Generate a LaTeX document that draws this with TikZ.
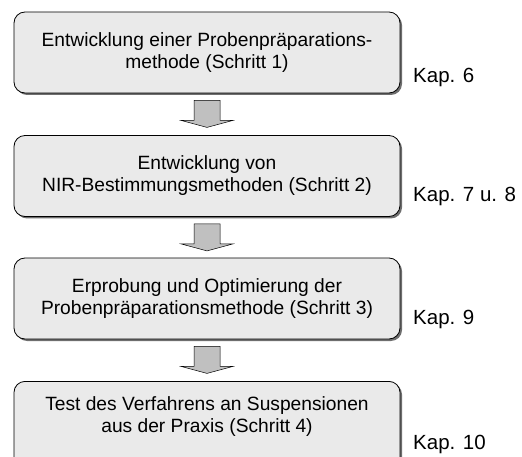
\documentclass[tikz,border=0pt]{standalone}
\usepackage{fontspec}
\setmainfont{Liberation Sans}
\usetikzlibrary{positioning,shadows,calc}

\definecolor{boxgray}{RGB}{234,234,234}
\definecolor{arrowgray}{RGB}{192,192,192}
\definecolor{shadowgray}{RGB}{110,110,110}

\tikzset{
  stepbox/.style={draw=black, line width=0.8pt, rounded corners=11pt,
    fill=boxgray, minimum width=386pt, minimum height=81pt,
    align=center, font=\fontsize{19.2}{22}\selectfont,
    drop shadow={shadow xshift=2pt, shadow yshift=-2pt,
      fill=shadowgray, opacity=1}},
  kap/.style={anchor=west, inner sep=0pt, font=\fontsize{20.5}{24}\selectfont},
  blockarrow/.style={draw=black, line width=0.5pt, fill=arrowgray}
}

\begin{document}
\begin{tikzpicture}[x=1pt, y=-1pt]
\useasboundingbox (0,0) rectangle (522,457);

\def\xm{207}
\def\xk{413}

\def\ya{52.5}
\def\yb{176}
\def\yc{298.5}

% the four steps
\node[stepbox] (s1) at (\xm, \ya)
  {Entwicklung einer Probenpräparations-\\methode (Schritt 1)};
\node[stepbox] (s2) at (\xm, \yb)
  {Entwicklung von\\NIR-Bestimmungsmethoden (Schritt 2)};
\node[stepbox] (s3) at (\xm, \yc)
  {Erprobung und Optimierung der\\Probenpräparationsmethode (Schritt 3)};
\node[stepbox, anchor=north, minimum height=0pt, inner ysep=15pt,
  text depth=42pt] (s4) at (\xm, 381)
  {Test des Verfahrens an Suspensionen\\aus der Praxis (Schritt 4)};

% chapters
\node[kap] (k1) at (\xk, 77) {Kap. 6};
\node[kap] (k2) at (\xk, 196) {Kap. 7 u. 8};
\node[kap] (k3) at (\xk, 319) {Kap. 9};
\node[kap] (k4) at (\xk, 444) {Kap. 10};

% arrows between the steps
\draw[blockarrow] ($(s1.south)+(-13,7)$) -- ++(26,0) -- ++(0,20)
  -- ++(13,0) -- ++(-26,7) -- ++(-26,-7) -- ++(13,0) -- cycle;
\draw[blockarrow] ($(s2.south)+(-13,7)$) -- ++(26,0) -- ++(0,20)
  -- ++(13,0) -- ++(-26,7) -- ++(-26,-7) -- ++(13,0) -- cycle;
\draw[blockarrow] ($(s3.south)+(-13,7)$) -- ++(26,0) -- ++(0,20)
  -- ++(13,0) -- ++(-26,7) -- ++(-26,-7) -- ++(13,0) -- cycle;

\end{tikzpicture}
\end{document}
